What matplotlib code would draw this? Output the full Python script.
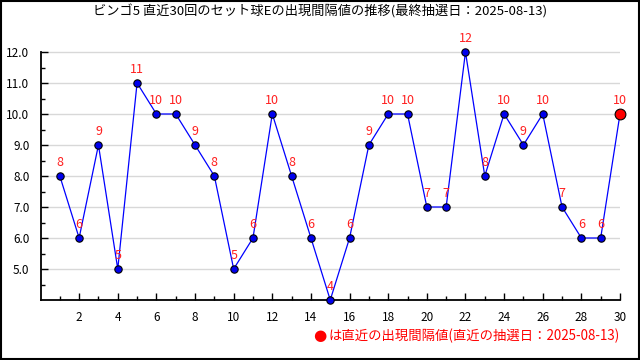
import matplotlib
matplotlib.use("Agg")
import matplotlib.pyplot as plt
from matplotlib.ticker import FixedLocator, FormatStrFormatter
from matplotlib.patches import Rectangle

plt.rcParams['font.family'] = ['Noto Sans CJK JP', 'DejaVu Sans']

draws = list(range(1, 31))
intervals = [8, 6, 9, 5, 11, 10, 10, 9, 8, 5, 6, 10, 8, 6, 4,
             6, 9, 10, 10, 7, 7, 12, 8, 10, 9, 10, 7, 6, 6, 10]
y_major = [5, 6, 7, 8, 9, 10, 11, 12]
y_minor = [4.5, 5.5, 6.5, 7.5, 8.5, 9.5, 10.5, 11.5]
x_major = list(range(2, 31, 2))
x_minor = list(range(1, 30, 2))
title = "ビンゴ5 直近30回のセット球Eの出現間隔値の推移(最終抽選日：2025-08-13)"
note = "は直近の出現間隔値(直近の抽選日：2025-08-13)"

fig = plt.figure(figsize=(6.4, 3.6), dpi=100)
ax = fig.add_axes([40.5 / 640, 60 / 360, 579.5 / 640, 279 / 360])

ax.plot(draws, intervals, color='#0000ff', lw=0.9, zorder=3)
ax.scatter(draws[:-1], intervals[:-1], s=28, color='#0000ee',
           edgecolor='black', linewidth=0.8, zorder=4, clip_on=False)
ax.scatter(draws[-1:], intervals[-1:], s=60, color='#ff0000',
           edgecolor='black', linewidth=0.8, zorder=4, clip_on=False)
for x, y in zip(draws, intervals):
    ax.annotate(str(y), (x, y), xytext=(0, 5), textcoords='offset points',
                ha='center', va='bottom', color='#ff2020', fontsize=9,
                zorder=5, annotation_clip=False)

ax.set_xlim(0, 30)
ax.set_ylim(4, 13)
ax.set_xticks(x_major)
ax.xaxis.set_minor_locator(FixedLocator(x_minor))
ax.set_yticks(y_major)
ax.yaxis.set_minor_locator(FixedLocator(y_minor))
ax.yaxis.set_major_formatter(FormatStrFormatter('%.1f'))
ax.tick_params(axis='both', which='major', length=5, width=1,
               labelsize=8.5, direction='in', pad=5)
ax.tick_params(axis='both', which='minor', length=3, width=1,
               direction='in')
ax.tick_params(axis='y', which='major', pad=8)
ax.tick_params(axis='x', which='major', pad=8)
ax.grid(axis='y', which='major', color='#d8d8d8', lw=1)
ax.set_axisbelow(True)
for side in ['top', 'right']:
    ax.spines[side].set_visible(False)
for side in ['left', 'bottom']:
    ax.spines[side].set_linewidth(1.3)
ax.spines['left'].set_bounds(4, 12)

fig.text(0.5, 1 - 11 / 360, title, ha='center', va='center', fontsize=9.5)
fig.text(328 / 640, 1 - 336 / 360, note, ha='left', va='center',
         fontsize=9.6, color='#ff0000')
fig.text(320 / 640, 1 - 335 / 360, '●', ha='center', va='center',
         fontsize=11, color='#ff0000', family=['DejaVu Sans'])

fig.add_artist(Rectangle((0.001, 0.002), 0.997, 0.995, transform=fig.transFigure,
                         fill=False, edgecolor='black', lw=1.5))

fig.savefig('out.png', dpi=100)
